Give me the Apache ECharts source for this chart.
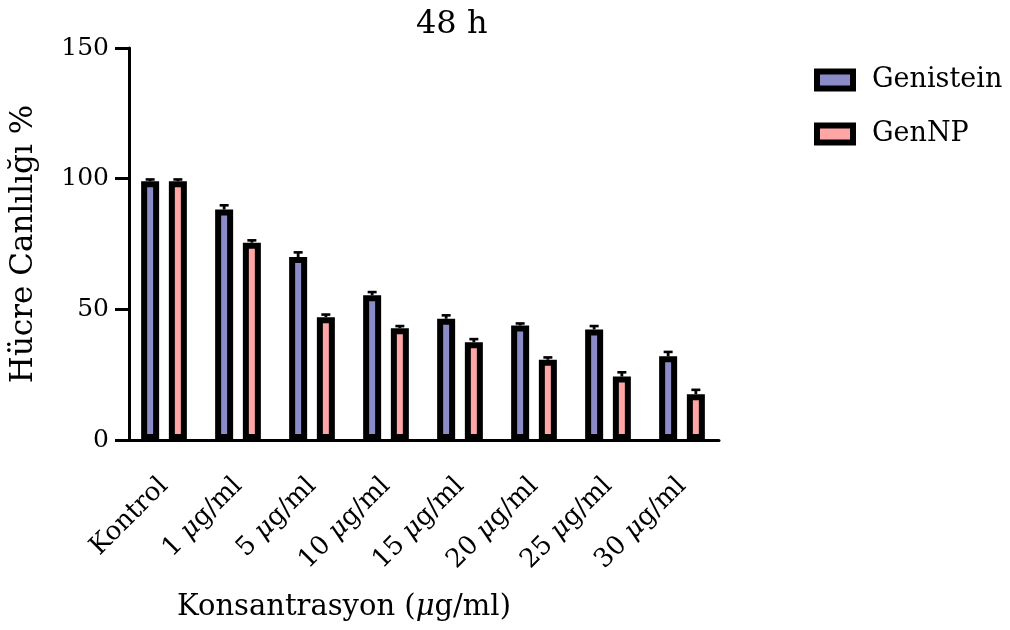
<!DOCTYPE html>
<html><head><meta charset="utf-8">
<script src="https://cdn.jsdelivr.net/npm/echarts@6/dist/echarts.min.js"></script>
<style>html,body{margin:0;padding:0;background:#fff}#c{width:1010px;height:630px}</style>
</head><body><div id="c"></div>
<script>
const categories = ['Kontrol','1 μg/ml','5 μg/ml','10 μg/ml','15 μg/ml','20 μg/ml','25 μg/ml','30 μg/ml'];
const genistein = [99.0, 88.2, 70.0, 55.4, 46.4, 43.8, 42.3, 32.0];
const genisteinErr = [0.7, 1.6, 1.8, 1.2, 1.3, 0.8, 1.3, 1.7];
const genNP = [99.0, 75.5, 47.0, 42.8, 37.4, 30.7, 24.3, 17.5];
const genNPErr = [0.7, 0.9, 1.0, 0.8, 1.2, 0.9, 1.6, 1.7];
const seriesNames = ['Genistein', 'GenNP'];
const colors = ['#8B8BC8', '#FFA5A5'];

const FONT = 'DejaVu Serif';
const BAR_W = 18, BAR_GAP = 0.54;
const OFF = BAR_W * (1 + BAR_GAP) / 2;

function errData(vals, errs){ return vals.map((v,i)=>[i, v, errs[i]]); }
function errRender(sign){
  return function(params, api){
    const i = api.value(0), v = api.value(1), e = api.value(2);
    const b = api.coord([i, v]), t = api.coord([i, v + e]);
    const x = b[0] + sign * OFF;
    return {type:'group', children:[
      {type:'line', shape:{x1:x, y1:b[1], x2:x, y2:t[1]}, style:{stroke:'#000', lineWidth:2.8}},
      {type:'line', shape:{x1:x-4.5, y1:t[1], x2:x+4.5, y2:t[1]}, style:{stroke:'#000', lineWidth:2.6}}
    ]};
  };
}
const richI = {
  n:{fontFamily:FONT, fontSize:26, color:'#000'},
  i:{fontFamily:FONT, fontSize:26, color:'#000', fontStyle:'italic'}
};

const chart = echarts.init(document.getElementById('c'), null, {renderer:'canvas'});
chart.setOption({
  animation:false,
  backgroundColor:'#fff',
  title:{text:'48 h', left:411, top:4, textStyle:{fontFamily:FONT, fontSize:32, fontWeight:'normal', color:'#000'}},
  legend:{
    data:seriesNames, orient:'vertical', left:809, top:60,
    itemWidth:36, itemHeight:17, itemGap:24, icon:'rect',
    itemStyle:{borderColor:'#000', borderWidth:6},
    textStyle:{fontFamily:FONT, fontSize:27, color:'#000', lineHeight:30, padding:[0,0,0,14]}
  },
  grid:{left:126, right:291, top:48, bottom:190, containLabel:false},
  xAxis:{
    type:'category', data:categories,
    axisLine:{lineStyle:{color:'#000', width:3}},
    axisTick:{alignWithLabel:true, length:14, lineStyle:{color:'#000', width:3}},
    axisLabel:{rotate:45, margin:42, interval:0, color:'#000', fontFamily:FONT, fontSize:26,
      formatter:(s)=>s.indexOf('μ')>=0 ? '{n|'+s.replace('μ','}{i|μ}{n|')+'}' : '{n|'+s+'}', rich:richI},
    name:'Konsantrasyon ({i|μ}g/ml)', nameLocation:'middle', nameGap:153,
    nameTextStyle:{fontFamily:FONT, fontSize:29, color:'#000', padding:[0,158,0,0],
      rich:{i:{fontFamily:FONT, fontSize:29, color:'#000', fontStyle:'italic'}}}
  },
  yAxis:{
    type:'value', min:0, max:150, interval:50, offset:-2,
    splitLine:{show:false},
    axisLine:{show:true, lineStyle:{color:'#000', width:3}},
    axisTick:{show:true, length:14, lineStyle:{color:'#000', width:3}},
    axisLabel:{margin:20, color:'#000', fontFamily:FONT, fontSize:25},
    name:'Hücre Canlılığı %', nameLocation:'middle', nameGap:90,
    nameTextStyle:{fontFamily:FONT, fontSize:31, color:'#000'}
  },
  series:[
    {name:seriesNames[0], type:'bar', data:genistein, barWidth:BAR_W, barGap:(BAR_GAP*100)+'%',
      itemStyle:{color:colors[0], borderColor:'#000', borderWidth:6}},
    {name:seriesNames[1], type:'bar', data:genNP, barWidth:BAR_W,
      itemStyle:{color:colors[1], borderColor:'#000', borderWidth:6}},
    {name:'errG', type:'custom', data:errData(genistein, genisteinErr), renderItem:errRender(-1), encode:{x:0,y:1}, z:5},
    {name:'errN', type:'custom', data:errData(genNP, genNPErr), renderItem:errRender(1), encode:{x:0,y:1}, z:5}
  ]
});
</script></body></html>
